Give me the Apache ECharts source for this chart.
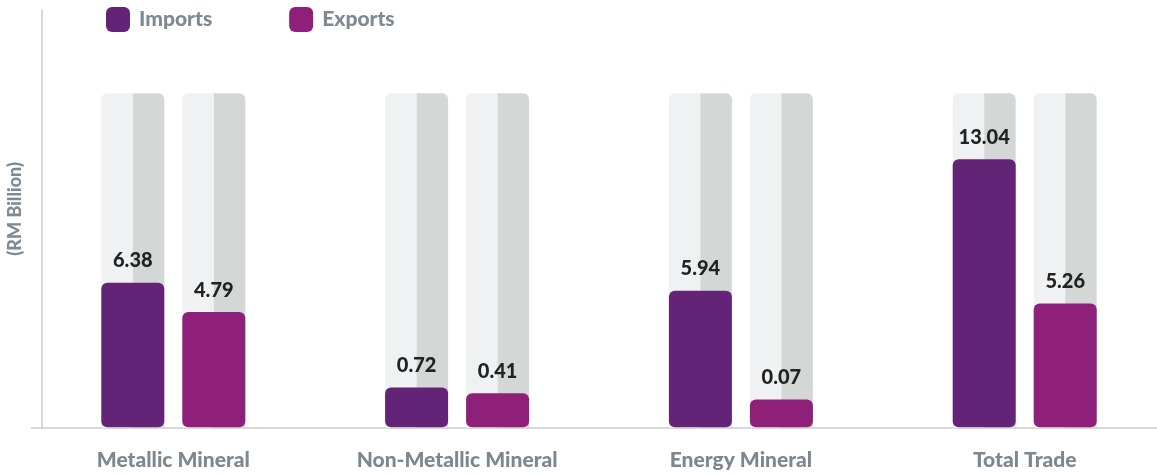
<!DOCTYPE html>
<html>
<head>
<meta charset="utf-8">
<script src="https://cdn.jsdelivr.net/npm/echarts@6/dist/echarts.min.js"></script>
<style>
html,body{margin:0;padding:0;background:#fff;}
#chart{width:1157px;height:474px;}
</style>
</head>
<body>
<div id="chart"></div>
<script>
const categories = ['Metallic Mineral', 'Non-Metallic Mineral', 'Energy Mineral', 'Total Trade'];
const imports = [6.38, 0.72, 5.94, 13.04];
const exports = [4.79, 0.41, 0.07, 5.26];
const seriesNames = ['Imports', 'Exports'];

const yMin = -1.45;
const yMax = 21.1;
const trackTop = 16.6;
const BAR_W = 63;
const HALF_GAP = 9;
const FONT = 'Lato';
const colors = ['#632478', '#8e2079'];

const chart = echarts.init(document.getElementById('chart'), null, {renderer: 'canvas'});

function trackRender(params, api) {
  const idx = api.value(0);
  const top = api.coord([idx, trackTop]);
  const base = api.coord([idx, yMin]);
  const h = base[1] - top[1];
  const children = [];
  [-1, 1].forEach(function (side) {
    const left = side < 0 ? top[0] - HALF_GAP - BAR_W : top[0] + HALF_GAP;
    children.push({type: 'rect', shape: {x: left, y: top[1], width: BAR_W / 2, height: h, r: [6, 0, 0, 0]}, style: {fill: '#f0f1f3'}});
    children.push({type: 'rect', shape: {x: left + BAR_W / 2, y: top[1], width: BAR_W / 2, height: h, r: [0, 6, 0, 0]}, style: {fill: '#d3d8d7'}});
  });
  return {type: 'group', children: children};
}

function barRender(side, color) {
  return function (params, api) {
    const idx = api.value(0);
    const v = api.value(1);
    const top = api.coord([idx, v]);
    const base = api.coord([idx, yMin]);
    const left = side < 0 ? top[0] - HALF_GAP - BAR_W : top[0] + HALF_GAP;
    return {
      type: 'group',
      children: [
        {type: 'rect', shape: {x: left, y: top[1], width: BAR_W, height: base[1] - top[1] - 0.5, r: 6}, style: {fill: color}},
        {type: 'text', x: left + BAR_W / 2, y: top[1] - 12, style: {text: v.toFixed(2), textAlign: 'center', textVerticalAlign: 'bottom', font: '900 20px ' + FONT, fill: '#222222'}}
      ]
    };
  };
}

const option = {
  backgroundColor: '#ffffff',
  animation: false,
  legend: {
    left: 101, top: 2,
    itemWidth: 24, itemHeight: 25, itemGap: 77,
    icon: 'roundRect',
    data: [
      {name: seriesNames[0], itemStyle: {color: colors[0]}},
      {name: seriesNames[1], itemStyle: {color: colors[1]}}
    ],
    textStyle: {fontFamily: FONT, fontWeight: 900, fontSize: 21, color: '#7f8993', padding: [0, 0, 0, 4]}
  },
  grid: {left: 31.4, top: 10, width: 1135.2, bottom: 46.3, containLabel: false, outerBoundsMode: 'none'},
  xAxis: {
    type: 'category',
    data: categories,
    axisLine: {show: true, onZero: false, lineStyle: {color: '#cccccc', width: 1.5}},
    axisTick: {show: false},
    axisLabel: {fontFamily: FONT, fontWeight: 900, fontSize: 21, color: '#7b8791', margin: 22},
    splitLine: {show: false}
  },
  yAxis: {
    type: 'value',
    min: yMin, max: yMax,
    offset: -10.6,
    name: '(RM Billion)',
    nameLocation: 'middle',
    nameRotate: 90,
    nameGap: 18,
    nameTextStyle: {fontFamily: FONT, fontWeight: 900, fontSize: 18, color: '#7f8993', padding: [0, 0, 0, 20]},
    axisLine: {show: true, lineStyle: {color: '#cccccc', width: 1.5}},
    axisTick: {show: false},
    axisLabel: {show: false},
    splitLine: {show: false}
  },
  series: [
    {name: 'track', type: 'custom', renderItem: trackRender, data: categories.map(function (c, i) { return [i, trackTop]; }), silent: true},
    {name: seriesNames[0], type: 'custom', renderItem: barRender(-1, colors[0]), itemStyle: {color: colors[0]}, data: imports.map(function (v, i) { return [i, v]; })},
    {name: seriesNames[1], type: 'custom', renderItem: barRender(1, colors[1]), itemStyle: {color: colors[1]}, data: exports.map(function (v, i) { return [i, v]; })}
  ]
};
chart.setOption(option);
</script>
</body>
</html>
